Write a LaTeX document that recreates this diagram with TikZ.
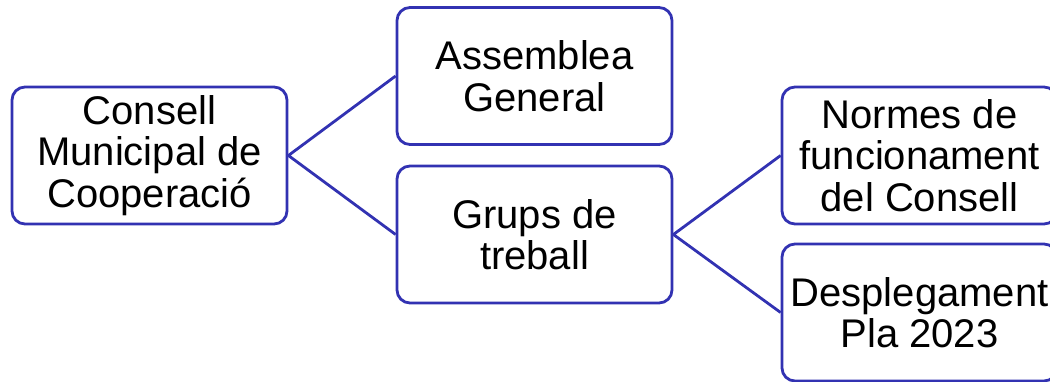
\documentclass[tikz,border=0pt]{standalone}
\usepackage{fontspec}
\setmainfont{Liberation Sans}
\definecolor{orgblue}{RGB}{50,50,178}
\tikzset{
  orgbox/.style={draw=orgblue, line width=2.8pt, rounded corners=13pt, fill=white,
    minimum width=275pt, minimum height=137pt, inner sep=0pt, align=center,
    font=\fontsize{40}{41.5}\selectfont},
  orgline/.style={draw=orgblue, line width=2.8pt}
}
\begin{document}
\begin{tikzpicture}[x=1pt,y=-1pt]
\useasboundingbox (0,0) rectangle (1050,381);

% the root
\node [orgbox] (consell) at (149.5,155.5) {Consell\\Municipal de\\Cooperaci\'o};

% the second level
\node [orgbox] (assemblea) at (534.5,76) {Assemblea\\General};
\node [orgbox] (grups) at (534.5,234.5) {Grups de\\treball};

% the third level
\node [orgbox] (normes) at (919.5,155.5) {Normes de\\funcionament\\del Consell};
\node [orgbox] (pla) at (919.5,312.5) {Desplegament\\Pla 2023};

\draw [orgline] (assemblea.west)--(consell.east)--(grups.west);
\draw [orgline] (normes.west)--(grups.east)--(pla.west);

\end{tikzpicture}
\end{document}
